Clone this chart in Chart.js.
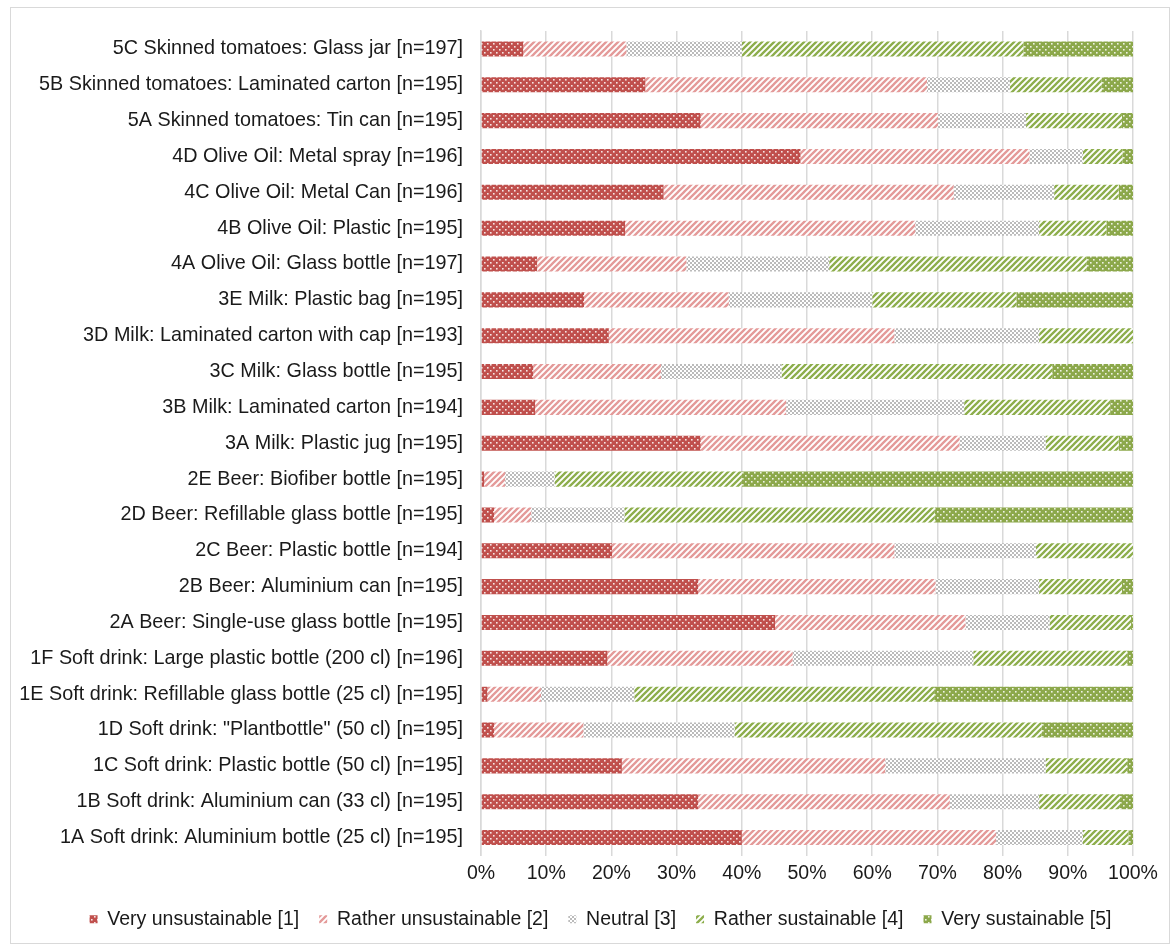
<!DOCTYPE html>
<html>
<head>
<meta charset="utf-8">
<script src="https://cdn.jsdelivr.net/npm/chart.js@4.4.1/dist/chart.umd.min.js"></script>
<style>
  html, body { margin: 0; padding: 0; background: #fff; }
  #wrap { position: relative; width: 1173px; height: 947px; }
  #frame { position: absolute; left: 10px; top: 7px; width: 1160px; height: 937px; border: 1px solid #d9d9d9; box-sizing: border-box; pointer-events: none; }
  canvas { position: absolute; left: 0; top: 0; }
</style>
</head>
<body>
<div id="wrap">
  <canvas id="c" width="1173" height="947"></canvas>
  <div id="frame"></div>
</div>
<script>
const categories = [
  "5C Skinned tomatoes: Glass jar [n=197]",
  "5B Skinned tomatoes: Laminated carton [n=195]",
  "5A Skinned tomatoes: Tin can [n=195]",
  "4D Olive Oil: Metal spray [n=196]",
  "4C Olive Oil: Metal Can [n=196]",
  "4B Olive Oil: Plastic [n=195]",
  "4A Olive Oil: Glass bottle [n=197]",
  "3E Milk: Plastic bag [n=195]",
  "3D Milk: Laminated carton with cap [n=193]",
  "3C Milk: Glass bottle [n=195]",
  "3B Milk: Laminated carton [n=194]",
  "3A Milk: Plastic jug [n=195]",
  "2E Beer: Biofiber bottle [n=195]",
  "2D Beer: Refillable glass bottle [n=195]",
  "2C Beer: Plastic bottle [n=194]",
  "2B Beer: Aluminium can [n=195]",
  "2A Beer: Single-use glass bottle [n=195]",
  "1F Soft drink: Large plastic bottle (200 cl) [n=196]",
  "1E Soft drink: Refillable glass bottle (25 cl) [n=195]",
  "1D Soft drink: \"Plantbottle\" (50 cl) [n=195]",
  "1C Soft drink: Plastic bottle (50 cl) [n=195]",
  "1B Soft drink: Aluminium can (33 cl) [n=195]",
  "1A Soft drink: Aluminium bottle (25 cl) [n=195]"
];
const seriesNames = ["Very unsustainable [1]", "Rather unsustainable [2]", "Neutral [3]", "Rather sustainable [4]", "Very sustainable [5]"];
const veryUnsustainable   = [6.5, 25.2, 33.7, 49.0, 28.0, 22.1, 8.6, 15.8, 19.6, 8.0, 8.3, 33.7, 0.5, 2.0, 20.1, 33.3, 45.1, 19.4, 1.0, 2.0, 21.6, 33.3, 40.0];
const ratherUnsustainable = [15.8, 43.2, 36.4, 35.1, 44.5, 44.5, 22.9, 22.2, 43.8, 19.6, 38.5, 39.7, 3.2, 5.7, 43.3, 36.4, 29.2, 28.4, 8.2, 13.7, 40.4, 38.6, 39.0];
const neutral             = [17.7, 12.7, 13.5, 8.2, 15.4, 19.0, 21.9, 22.0, 22.2, 18.5, 27.3, 13.2, 7.6, 14.3, 21.7, 15.9, 12.9, 27.7, 14.3, 23.2, 24.6, 13.7, 13.3];
const ratherSustainable   = [43.2, 14.1, 14.7, 6.1, 9.9, 10.3, 39.5, 22.1, 14.4, 41.5, 22.4, 11.2, 28.7, 47.6, 14.9, 12.7, 12.5, 23.6, 46.0, 47.1, 12.5, 12.4, 7.0];
const verySustainable     = [16.8, 4.8, 1.7, 1.6, 2.2, 4.1, 7.1, 17.9, 0.0, 12.4, 3.5, 2.2, 60.0, 30.4, 0.0, 1.7, 0.3, 0.9, 30.5, 14.0, 0.9, 2.0, 0.7];
const tickValues = [0, 10, 20, 30, 40, 50, 60, 70, 80, 90, 100];

function pattern(size, draw) {
  const c = document.createElement('canvas');
  c.width = size; c.height = size;
  const g = c.getContext('2d');
  draw(g, size);
  return document.getElementById('c').getContext('2d').createPattern(c, 'repeat');
}
function dots(color) {
  return pattern(6, (g, s) => {
    g.fillStyle = color; g.fillRect(0, 0, s, s);
    g.fillStyle = 'rgba(255,255,255,0.85)';
    g.fillRect(1, 1, 1.6, 1.6);
    g.fillRect(4, 4, 1.6, 1.6);
  });
}
function stripes(color) {
  return pattern(6, (g, s) => {
    g.fillStyle = '#ffffff'; g.fillRect(0, 0, s, s);
    g.strokeStyle = color; g.lineWidth = 2.3;
    g.beginPath();
    g.moveTo(-1, s + 1); g.lineTo(s + 1, -1);
    g.moveTo(-1, 1); g.lineTo(1, -1);
    g.moveTo(s - 1, s + 1); g.lineTo(s + 1, s - 1);
    g.stroke();
  });
}
function checker(color) {
  return pattern(4, (g, s) => {
    g.fillStyle = '#ffffff'; g.fillRect(0, 0, s, s);
    g.fillStyle = color;
    g.fillRect(0, 0, 2, 2);
    g.fillRect(2, 2, 2, 2);
  });
}

const fills = [
  dots('#C0504D'),
  stripes('#E49A99'),
  checker('#BBBBBB'),
  stripes('#8DAE4C'),
  dots('#8CA84B')
];
const values = [veryUnsustainable, ratherUnsustainable, neutral, ratherSustainable, verySustainable];

const font = { family: "'Liberation Sans', Arial, sans-serif", size: 19.5 };
const yFont = { family: "'Liberation Sans', Arial, sans-serif", size: 19.8 };

const legendShift = {
  id: 'legendShift',
  afterLayout(chart) {
    if (chart.legend) { chart.legend.left = 68; }
  }
};

new Chart(document.getElementById('c'), {
  type: 'bar',
  data: {
    labels: categories,
    datasets: seriesNames.map((n, i) => ({
      label: n,
      data: values[i],
      backgroundColor: fills[i],
      borderWidth: 0,
      barPercentage: 0.84,
      categoryPercentage: 0.5
    }))
  },
  options: {
    indexAxis: 'y',
    responsive: false,
    animation: false,
    devicePixelRatio: 1,
    layout: { padding: { top: 31, right: 40, left: 0, bottom: 8 } },
    scales: {
      x: {
        stacked: true,
        min: 0, max: 100,
        afterBuildTicks: (s) => { s.ticks = tickValues.map(v => ({ value: v })); },
        afterFit: (s) => { s.height = 34; },
        grid: { color: '#d9d9d9', lineWidth: 1.5, drawTicks: false },
        border: { display: false },
        ticks: { color: '#1a1a1a', font: font, padding: 6, callback: (v) => v + '%' }
      },
      y: {
        stacked: true,
        afterFit: (s) => { s.width = 481; },
        grid: { display: false },
        border: { display: true, color: '#d9d9d9', width: 1.5 },
        ticks: { color: '#1a1a1a', font: yFont, padding: 10, autoSkip: false }
      }
    },
    plugins: {
      legend: {
        position: 'bottom',
        labels: { font: font, color: '#1a1a1a', boxWidth: 8, boxHeight: 8, padding: 20 }
      },
      tooltip: { enabled: false }
    }
  },
  plugins: [legendShift]
});
</script>
</body>
</html>
